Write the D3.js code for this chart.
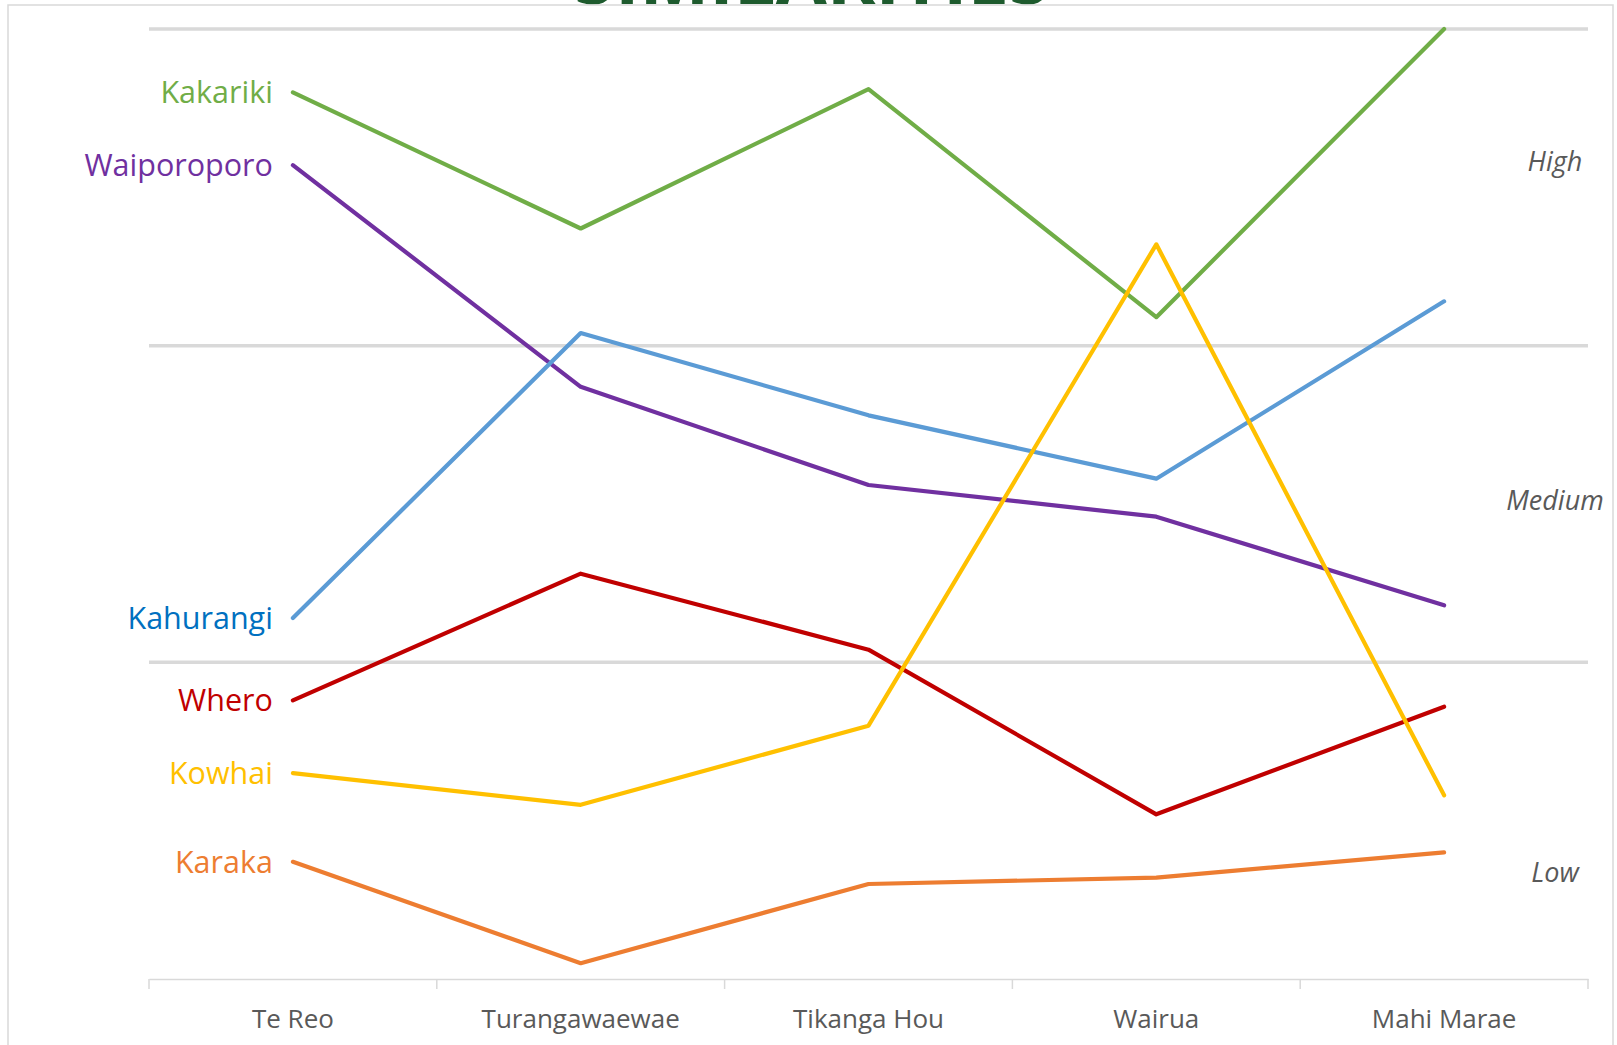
<!DOCTYPE html>
<html>
<head>
<meta charset="utf-8">
<script src="https://cdnjs.cloudflare.com/ajax/libs/d3/7.8.5/d3.min.js"></script>
<style>
  body { margin:0; background:#fff; }
  text { font-family: "Open Sans", "Noto Sans", sans-serif; }
</style>
</head>
<body>
<div id="chart"></div>
<script>

// categories on the x axis
var categories = ["Te Reo", "Turangawaewae", "Tikanga Hou", "Wairua", "Mahi Marae"];

// one array per group, 0 = bottom, 3 = top gridline
var kakariki    = [2.80, 2.37, 2.81, 2.09, 3.00];
var waiporoporo = [2.57, 1.87, 1.56, 1.46, 1.18];
var kahurangi   = [1.14, 2.04, 1.78, 1.58, 2.14];
var whero       = [0.88, 1.28, 1.04, 0.52, 0.86];
var kowhai      = [0.65, 0.55, 0.80, 2.32, 0.58];
var karaka      = [0.37, 0.05, 0.30, 0.32, 0.40];

var seriesNames  = ["Kakariki", "Waiporoporo", "Kahurangi", "Whero", "Kowhai", "Karaka"];
var seriesValues = [kakariki, waiporoporo, kahurangi, whero, kowhai, karaka];
var lineColors   = ["#70AD47", "#7030A0", "#5B9BD5", "#C00000", "#FFC000", "#ED7D31"];
var labelColors  = ["#70AD47", "#7030A0", "#0070C0", "#C00000", "#FFC000", "#ED7D31"];

// gridline values + the High/Medium/Low text on the right
var gridValues  = [1, 2, 3];
var levelLabels = ["High", "Medium", "Low"];
var levelValues = [2.58, 1.51, 0.335];

var width = 1617, height = 1045;
var margin = {top: 29, right: 28, bottom: 66, left: 149};

var svg = d3.select("#chart").append("svg")
      .attr("width", width)
      .attr("height", height);

// title, mostly cut off at the top of the frame
svg.append("text")
   .attr("x", 812)
   .attr("y", 4)
   .attr("text-anchor", "middle")
   .attr("font-size", 74)
   .attr("font-weight", "bold")
   .attr("fill", "#1E5B2E")
   .text("SIMILARITIES");

// chart frame
svg.append("rect")
   .attr("x", 8).attr("y", 5)
   .attr("width", 1605).attr("height", 1100)
   .attr("fill", "none")
   .attr("stroke", "#D9D9D9")
   .attr("stroke-width", 1.5);

var x = d3.scaleBand()
          .domain(categories)
          .range([margin.left, width - margin.right - 1])
          .paddingInner(0).paddingOuter(0);

var y = d3.scaleLinear()
          .domain([0, 3])
          .range([height - margin.bottom, margin.top]);

function cx(c) { return x(c) + x.bandwidth() / 2; }

// gridlines
svg.selectAll(".grid")
   .data(gridValues)
   .enter().append("line")
   .attr("class", "grid")
   .attr("x1", x.range()[0])
   .attr("x2", x.range()[1])
   .attr("y1", function(d) { return y(d); })
   .attr("y2", function(d) { return y(d); })
   .attr("stroke", "#D9D9D9")
   .attr("stroke-width", 3.5);

// x axis - labels from d3 axis, ticks between categories like excel
var axis = svg.append("g")
   .attr("transform", "translate(0," + y(0) + ")")
   .call(d3.axisBottom(x).tickSize(0).tickPadding(31));

axis.select(".domain")
    .attr("stroke", "#D9D9D9")
    .attr("stroke-width", 1.5);

axis.selectAll("text")
    .attr("font-size", 26)
    .attr("fill", "#595959")
    .style("font-family", "'Open Sans', sans-serif");

var edges = categories.map(function(c) { return x(c); }).concat([x.range()[1]]);
axis.selectAll(".edge")
    .data(edges)
    .enter().append("line")
    .attr("class", "edge")
    .attr("x1", function(d) { return d; })
    .attr("x2", function(d) { return d; })
    .attr("y1", 0).attr("y2", 10)
    .attr("stroke", "#D9D9D9")
    .attr("stroke-width", 1.5);

// lines
var line = d3.line()
   .x(function(d, i) { return cx(categories[i]); })
   .y(function(d) { return y(d); });

svg.selectAll(".series")
   .data(seriesValues)
   .enter().append("path")
   .attr("class", "series")
   .attr("d", line)
   .attr("fill", "none")
   .attr("stroke", function(d, i) { return lineColors[i]; })
   .attr("stroke-width", 4.2)
   .attr("stroke-linecap", "round")
   .attr("stroke-linejoin", "round");

// series names at the start of each line
svg.selectAll(".name")
   .data(seriesNames)
   .enter().append("text")
   .attr("class", "name")
   .attr("x", cx(categories[0]) - 20)
   .attr("y", function(d, i) { return y(seriesValues[i][0]); })
   .attr("dy", "0.35em")
   .attr("text-anchor", "end")
   .attr("font-size", 30.5)
   .attr("fill", function(d, i) { return labelColors[i]; })
   .text(function(d) { return d; });

// High / Medium / Low
svg.selectAll(".level")
   .data(levelLabels)
   .enter().append("text")
   .attr("class", "level")
   .attr("x", 1555)
   .attr("y", function(d, i) { return y(levelValues[i]); })
   .attr("dy", "0.35em")
   .attr("text-anchor", "middle")
   .attr("font-size", 27)
   .attr("font-style", "italic")
   .attr("fill", "#595959")
   .text(function(d) { return d; });

</script>
</body>
</html>
